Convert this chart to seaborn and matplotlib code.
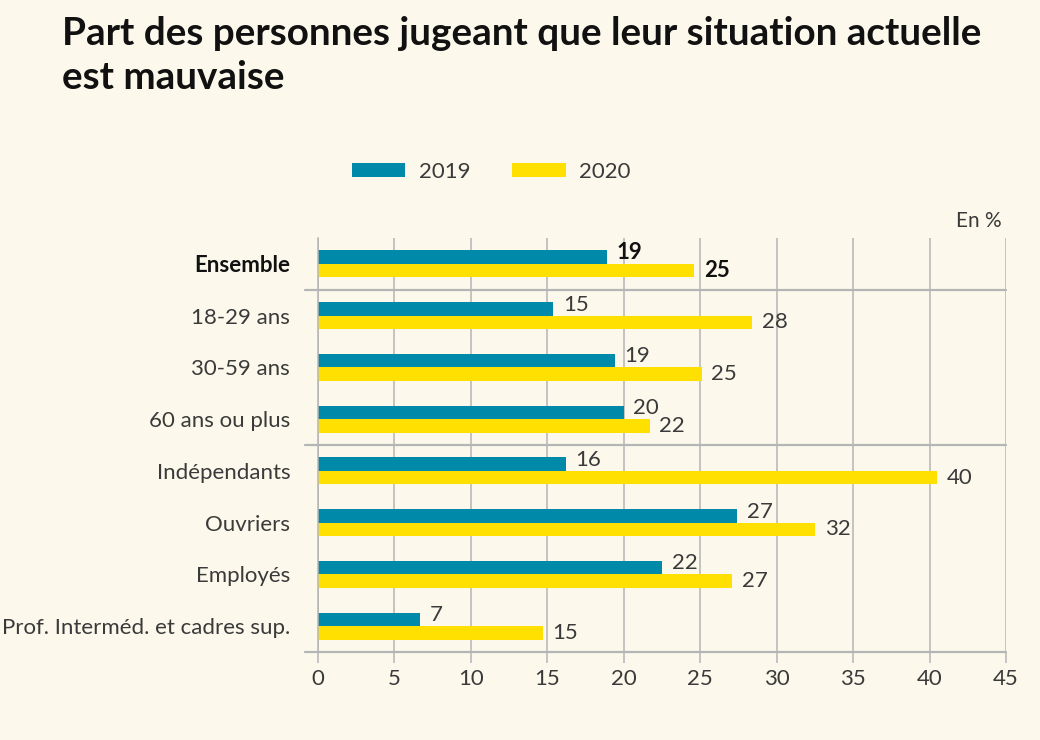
import matplotlib
matplotlib.use("Agg")
import matplotlib.pyplot as plt
import matplotlib.transforms as mtransforms
import seaborn as sns
import pandas as pd

categories = ["Ensemble", "18-29 ans", "30-59 ans", "60 ans ou plus",
              "Indépendants", "Ouvriers", "Employés",
              "Prof. Interméd. et cadres sup."]
values_2019 = [18.9, 15.4, 19.4, 20.0, 16.2, 27.4, 22.5, 6.7]
values_2020 = [24.6, 28.4, 25.1, 21.7, 40.5, 32.5, 27.1, 14.7]
labels_2019 = ["19", "15", "19", "20", "16", "27", "22", "7"]
labels_2020 = ["25", "28", "25", "22", "40", "32", "27", "15"]
years = ["2019", "2020"]
xticks = [0, 5, 10, 15, 20, 25, 30, 35, 40, 45]

BG = "#FCF9EC"
BLUE = "#0089A8"
YELLOW = "#FFE000"
GRID = "#B5B5B5"
TXT = "#3A3A3A"

df = pd.DataFrame({
    "cat": categories * 2,
    "val": values_2019 + values_2020,
    "year": [years[0]] * len(categories) + [years[1]] * len(categories),
})

sns.set_theme(style="white")
plt.rcParams["font.family"] = ["Lato", "DejaVu Sans"]

fig = plt.figure(figsize=(10.4, 7.4), dpi=100, facecolor=BG)
ax = fig.add_axes([318 / 1040, 1 - 652 / 740, (1006 - 318) / 1040, (652 - 238) / 740])
ax.set_facecolor(BG)

sns.barplot(data=df, y="cat", x="val", hue="year", orient="h",
            palette=[BLUE, YELLOW], width=0.52, dodge=True, ax=ax,
            linewidth=0, saturation=1, legend=True)

ax.set_xlim(0, 45)
ax.set_xticks(xticks)
ax.set_xticklabels([str(t) for t in xticks])
ax.set_axisbelow(True)
ax.grid(axis="x", color=GRID, linewidth=1.1)
ax.grid(axis="y", visible=False)
ax.set_xlabel("")
ax.set_ylabel("")

for s in ["top", "right"]:
    ax.spines[s].set_visible(False)
ax.spines["left"].set_color(GRID)
ax.spines["left"].set_linewidth(1.1)
ax.spines["bottom"].set_visible(False)

ax.tick_params(axis="x", length=8, width=1.1, color=GRID, labelsize=16,
               labelcolor=TXT, pad=4, direction="out", bottom=True)
ax.tick_params(axis="y", length=0, labelsize=16, labelcolor=TXT, pad=20)
for lab in ax.get_yticklabels():
    if lab.get_text() == "Ensemble":
        lab.set_fontweight("bold")
        lab.set_color("#111111")

# separators and bottom axis line extending left of the axis
trans = mtransforms.blended_transform_factory(ax.transAxes, ax.transData)
for yv in [0.5, 3.5, 7.5]:
    ax.plot([-13 / 688, 1.0], [yv, yv], transform=trans, color=GRID,
            linewidth=1.6, clip_on=False, zorder=3, scalex=False, scaley=False)
ax.set_ylim(7.5, -0.5)

# value labels
c19, c20 = ax.containers[0], ax.containers[1]
anns19 = ax.bar_label(c19, labels=labels_2019, padding=7, fontsize=16, color=TXT)
anns20 = ax.bar_label(c20, labels=labels_2020, padding=7, fontsize=16, color=TXT)
for a in anns19:
    a.xyann = (7, 3)
for a in (anns19[0], anns20[0]):
    a.set_fontweight("bold")
    a.set_color("#111111")

# legend
leg = ax.legend(loc="center left", bbox_to_anchor=(352 / 1040, 1 - 172 / 740),
                bbox_transform=fig.transFigure, ncol=2, frameon=False,
                fontsize=16, handlelength=2.4, handleheight=0.55,
                handletextpad=0.6, columnspacing=1.9, borderpad=0,
                borderaxespad=0)
for t in leg.get_texts():
    t.set_color(TXT)

fig.text(1002 / 1040, 1 - 221 / 740, "En %", ha="right", va="center",
         fontsize=15, color=TXT)

fig.text(62 / 1040, 1 - 16 / 740,
         "Part des personnes jugeant que leur situation actuelle\nest mauvaise",
         ha="left", va="top", fontsize=27.8, fontweight="bold", color="#111111",
         linespacing=1.3)

fig.savefig("out.png", dpi=100, facecolor=BG)
